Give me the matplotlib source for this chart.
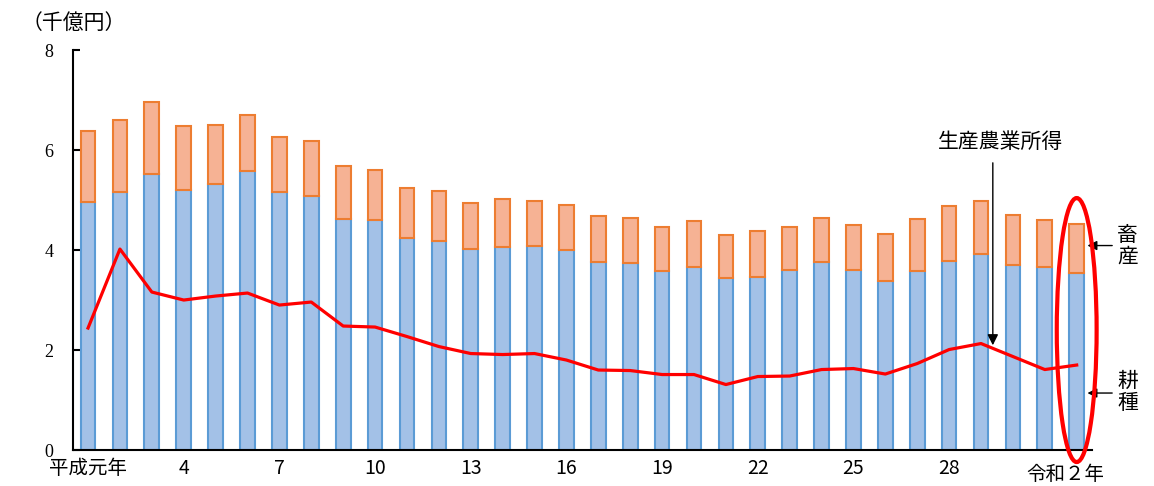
import matplotlib.pyplot as plt
from matplotlib.patches import Ellipse

plt.rcParams['font.family'] = ['Noto Sans CJK JP', 'DejaVu Sans']

# 平成元年(1989) ～ 令和2年(2020)、単位：千億円
years = list(range(32))
kosyu = [4.96, 5.16, 5.52, 5.20, 5.32, 5.58, 5.16, 5.08, 4.62, 4.60,
         4.25, 4.19, 4.02, 4.06, 4.08, 4.00, 3.77, 3.75, 3.58, 3.67,
         3.44, 3.47, 3.60, 3.77, 3.60, 3.39, 3.58, 3.79, 3.93, 3.71,
         3.67, 3.55]
total = [6.38, 6.60, 6.96, 6.48, 6.50, 6.70, 6.26, 6.18, 5.68, 5.60,
         5.25, 5.19, 4.95, 5.03, 4.98, 4.90, 4.68, 4.64, 4.47, 4.58,
         4.30, 4.38, 4.47, 4.64, 4.50, 4.33, 4.63, 4.89, 4.99, 4.70,
         4.60, 4.52]
chikusan = [t - k for t, k in zip(total, kosyu)]
syotoku = [2.44, 4.02, 3.16, 3.00, 3.08, 3.14, 2.90, 2.96, 2.48, 2.46,
           2.27, 2.07, 1.93, 1.91, 1.93, 1.80, 1.60, 1.59, 1.51, 1.51,
           1.31, 1.47, 1.48, 1.61, 1.63, 1.52, 1.73, 2.01, 2.13, 1.87,
           1.61, 1.70]

tick_pos = [0, 3, 6, 9, 12, 15, 18, 21, 24, 27, 31]
tick_labels = ['平成元年', '4', '7', '10', '13', '16', '19', '22', '25', '28', '']

fig = plt.figure(figsize=(11.54, 4.86), dpi=100)
ax = fig.add_axes([0.0633, 0.074, 0.8827, 0.823])

w = 0.46
ax.bar(years, kosyu, w, color='#a3c1e7', edgecolor='#5b9bd5', lw=1.5, zorder=2)
ax.bar(years, chikusan, w, bottom=kosyu, color='#f6b294', edgecolor='#ed7d31',
       lw=1.5, zorder=2)
ax.plot(years, syotoku, color='#ff0000', lw=2.3, zorder=3)

ax.set_xlim(-0.47, 31.47)
ax.set_ylim(0, 8)
ax.set_yticks([0, 2, 4, 6, 8])
ax.set_xticks(tick_pos)
ax.set_xticklabels(tick_labels)

for s in ['top', 'right']:
    ax.spines[s].set_visible(False)
for s in ['left', 'bottom']:
    ax.spines[s].set_linewidth(1.5)
ax.tick_params(axis='y', direction='in', length=5, width=1.5, labelsize=13, pad=14)
ax.tick_params(axis='x', length=0, labelsize=13, pad=6)
for lab in ax.get_yticklabels():
    lab.set_family(['Liberation Serif', 'DejaVu Serif'])
for lab in ax.get_xticklabels():
    lab.set_family(['Noto Sans CJK JP', 'Liberation Serif'])
    lab.set_fontsize(14)

# 最終年のラベル（少し左寄せ）
ax.text(30.65, -0.035, '令和２年', fontsize=14, ha='center', va='top',
        transform=ax.get_xaxis_transform())

fig.text(0.019, 0.953, '（千億円）', fontsize=15, ha='left', va='center')

# 注記
ax.annotate('', xy=(28.37, 2.04), xytext=(28.37, 5.8),
            arrowprops=dict(arrowstyle='-|>', color='black', lw=1, mutation_scale=16))
ax.text(28.6, 6.16, '生産農業所得', fontsize=15, ha='center', va='center')

ax.annotate('', xy=(31.25, 4.09), xytext=(32.2, 4.09),
            arrowprops=dict(arrowstyle='-|>', color='black', lw=1, mutation_scale=14),
            annotation_clip=False)
ax.text(32.6, 4.08, '畜\n産', fontsize=15, ha='center', va='center', linespacing=1.0)

ax.annotate('', xy=(31.25, 1.14), xytext=(32.2, 1.14),
            arrowprops=dict(arrowstyle='-|>', color='black', lw=1, mutation_scale=14),
            annotation_clip=False)
ax.text(32.6, 1.16, '耕\n種', fontsize=15, ha='center', va='center', linespacing=1.0)

ell = Ellipse((31, 2.4), 1.25, 5.28, fill=False, ec='#ff0000', lw=3, clip_on=False, zorder=4)
ax.add_patch(ell)

fig.savefig('out.png', dpi=100)
